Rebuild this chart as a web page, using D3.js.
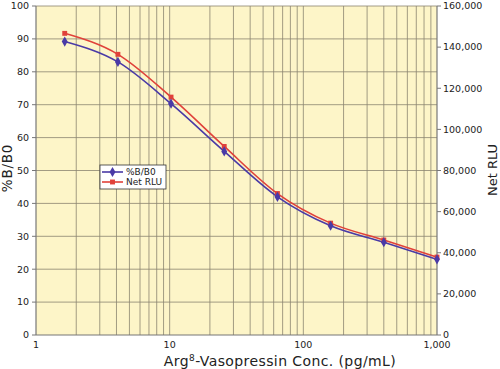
<!DOCTYPE html>
<html><head><meta charset="utf-8">
<script src="https://cdn.jsdelivr.net/npm/d3@7"></script>
<style>body{margin:0;background:#fff}svg{display:block}</style>
</head><body>
<script>
const conc = [1.64, 4.1, 10.24, 25.6, 64, 160, 400, 1000];
const pctB = [89.2, 83.0, 70.3, 55.8, 42.0, 33.2, 28.2, 23.0];
const netRLU = [146700, 136500, 115700, 91700, 68800, 54400, 46200, 37900];
const xTicks = [1, 10, 100, 1000];
const leftTicks = [0,10,20,30,40,50,60,70,80,90,100];
const rightTicks = [0,20000,40000,60000,80000,100000,120000,140000,160000];

const W=500,H=369, L=36,R=437,T=6,B=335;
const svg=d3.select("body").append("svg").attr("width",W).attr("height",H);
const font="DejaVu Sans";
const x=d3.scaleLog().domain([1,1000]).range([L,R]);
const yL=d3.scaleLinear().domain([0,100]).range([B,T]);
const yR=d3.scaleLinear().domain([0,160000]).range([B,T]);

svg.append("rect").attr("x",L).attr("y",T).attr("width",R-L).attr("height",B-T).attr("fill","#fdf5c8");
const grid="#8a8470";
const vlines=[];
for(let d=1;d<1000;d*=10) for(let k=1;k<10;k++){ if(!(d===1&&k===1)) vlines.push(d*k); }
svg.append("g").selectAll("line").data(vlines).join("line")
 .attr("x1",d=>x(d)).attr("x2",d=>x(d)).attr("y1",T).attr("y2",B)
 .attr("stroke",grid).attr("stroke-width",0.8);
svg.append("g").selectAll("line").data(leftTicks.slice(1)).join("line")
 .attr("x1",L).attr("x2",R).attr("y1",d=>yL(d)).attr("y2",d=>yL(d))
 .attr("stroke",grid).attr("stroke-width",0.8);

const ax=svg.append("g").attr("font-family",font).attr("font-size",9.5).attr("fill","#222");
ax.append("line").attr("x1",L).attr("x2",L).attr("y1",T).attr("y2",B).attr("stroke","#777").attr("stroke-width",1.2);
ax.append("line").attr("x1",R).attr("x2",R).attr("y1",T).attr("y2",B).attr("stroke","#777").attr("stroke-width",1.2);
ax.append("line").attr("x1",L).attr("x2",R).attr("y1",B).attr("y2",B).attr("stroke","#777").attr("stroke-width",1.2);
leftTicks.forEach(t=>{
 ax.append("line").attr("x1",L-4).attr("x2",L).attr("y1",yL(t)).attr("y2",yL(t)).attr("stroke","#777");
 ax.append("text").attr("x",L-7).attr("y",yL(t)).attr("dy","0.35em").attr("text-anchor","end").text(t);
});
const fmt=d3.format(",");
rightTicks.forEach(t=>{
 ax.append("line").attr("x1",R).attr("x2",R+4).attr("y1",yR(t)).attr("y2",yR(t)).attr("stroke","#777");
 ax.append("text").attr("x",R+6).attr("y",yR(t)).attr("dy","0.35em").attr("text-anchor","start").text(fmt(t));
});
xTicks.forEach(t=>{
 ax.append("text").attr("x",x(t)).attr("y",348).attr("text-anchor","middle").text(fmt(t));
});
const tf=svg.append("g").attr("font-family",font).attr("fill","#222");
tf.append("text").attr("transform",`translate(12,168) rotate(-90)`).attr("text-anchor","middle")
 .attr("font-size",13.5).attr("letter-spacing",0.8).text("%B/B0");
tf.append("text").attr("transform",`translate(497,170) rotate(-90)`).attr("text-anchor","middle")
 .attr("font-size",13).text("Net RLU");
const xt=tf.append("text").attr("x",280).attr("y",366).attr("text-anchor","middle").attr("font-size",14).attr("letter-spacing",0.4);
xt.append("tspan").text("Arg");
xt.append("tspan").attr("dy",-5).attr("font-size",9).text("8");
xt.append("tspan").attr("dy",5).text("-Vasopressin Conc. (pg/mL)");

const blue="#4a3aa6", red="#e0413a";
const lineR=d3.line().x((d,i)=>x(conc[i])).y(d=>yR(d)).curve(d3.curveMonotoneX);
const lineL=d3.line().x((d,i)=>x(conc[i])).y(d=>yL(d)).curve(d3.curveMonotoneX);
svg.append("path").attr("d",lineR(netRLU)).attr("fill","none").attr("stroke",red).attr("stroke-width",1.6);
svg.append("path").attr("d",lineL(pctB)).attr("fill","none").attr("stroke",blue).attr("stroke-width",1.6);
const diamond=d3.symbol().type(d3.symbolDiamond).size(30);
const square=d3.symbol().type(d3.symbolSquare).size(24);
svg.append("g").selectAll("path").data(netRLU).join("path")
 .attr("transform",(d,i)=>`translate(${x(conc[i])},${yR(d)})`).attr("d",square).attr("fill",red);
svg.append("g").selectAll("path").data(pctB).join("path")
 .attr("transform",(d,i)=>`translate(${x(conc[i])},${yL(d)})`).attr("d",diamond).attr("fill",blue);

const lg=svg.append("g").attr("transform","translate(100,165)");
lg.append("rect").attr("width",66).attr("height",24).attr("fill","#fff").attr("stroke","#333").attr("stroke-width",0.8);
[[blue,"%B/B0",diamond,7],[red,"Net RLU",square,17]].forEach(([c,t,s,yy])=>{
 lg.append("line").attr("x1",2).attr("x2",23).attr("y1",yy).attr("y2",yy).attr("stroke",c).attr("stroke-width",1.6);
 lg.append("path").attr("transform",`translate(12.5,${yy})`).attr("d",s).attr("fill",c);
 lg.append("text").attr("x",26).attr("y",yy).attr("dy","0.35em").attr("font-family",font).attr("font-size",9).attr("fill","#222").text(t);
});
</script>
</body></html>
